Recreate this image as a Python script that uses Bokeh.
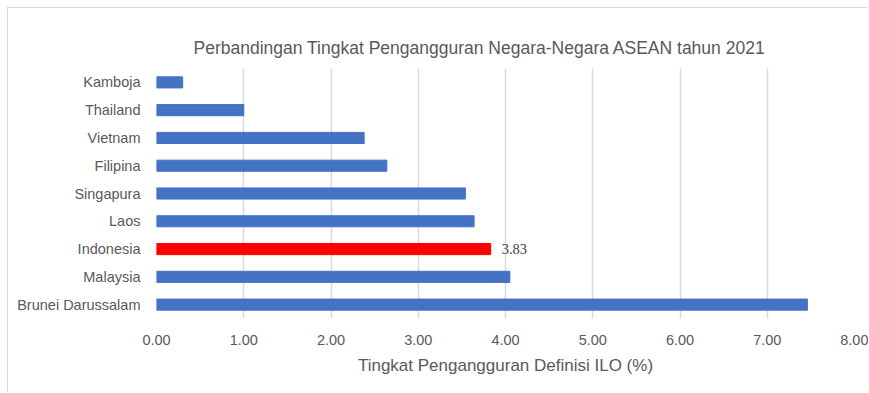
from bokeh.plotting import figure
from bokeh.models import ColumnDataSource, Range1d, FixedTicker, Title, LabelSet
from bokeh.embed import file_html
from bokeh.resources import INLINE

countries = ["Kamboja", "Thailand", "Vietnam", "Filipina", "Singapura", "Laos",
             "Indonesia", "Malaysia", "Brunei Darussalam"]
rates = [0.30, 1.00, 2.38, 2.64, 3.54, 3.64, 3.83, 4.05, 7.46]
colors = ["#4472C4"] * 6 + ["#FF0000"] + ["#4472C4"] * 2
label_text = ["", "", "", "", "", "", "3.83", "", ""]
x_ticks = [0, 1, 2, 3, 4, 5, 6, 7, 8]

FONT = "Liberation Sans"
GRAY = "#595959"

src = ColumnDataSource(dict(country=countries, rate=rates, color=colors, lab=label_text))

p = figure(width=861, height=385, y_range=list(reversed(countries)),
           x_range=Range1d(0, 8), output_backend="svg", toolbar_location=None,
           min_border_left=148, min_border_right=15, min_border_top=60, min_border_bottom=75)

p.hbar(y="country", right="rate", left=0, height=0.4, color="color", source=src)

labels = LabelSet(x="rate", y="country", text="lab", source=src, x_offset=11, y_offset=0,
                  text_baseline="middle", text_font=FONT, text_font_size="14.5px",
                  text_color="#404040")
p.add_layout(labels)

p.outline_line_color = None
p.ygrid.grid_line_color = None
p.xgrid.grid_line_color = "#d9d9d9"
p.xgrid.grid_line_width = 1.5

p.xaxis.ticker = FixedTicker(ticks=x_ticks)
p.xaxis.major_label_overrides = {t: f"{t:.2f}" for t in x_ticks}
p.xaxis.axis_label = "Tingkat Pengangguran Definisi ILO (%)"
for ax in (p.xaxis[0], p.yaxis[0]):
    ax.axis_line_color = None
    ax.major_tick_line_color = None
    ax.minor_tick_line_color = None
    ax.major_label_text_font = FONT
    ax.major_label_text_font_size = "14.5px"
    ax.major_label_text_color = GRAY
p.xaxis.major_label_standoff = 10
p.yaxis.major_label_standoff = 10
p.xaxis.axis_label_text_font = FONT
p.xaxis.axis_label_text_font_size = "17px"
p.xaxis.axis_label_text_font_style = "normal"
p.xaxis.axis_label_text_color = GRAY
p.xaxis.axis_label_standoff = 8

p.title = Title(text="Perbandingan Tingkat Pengangguran Negara-Negara ASEAN tahun 2021",
                align="left", offset=37, text_font=FONT, text_font_size="17.5px",
                text_font_style="normal", text_color=GRAY, standoff=22)

p.styles = {"border-left": "1px solid #d9d9d9", "border-top": "1px solid #d9d9d9",
            "margin-left": "7px", "margin-top": "7px"}

open("out.html", "w").write(file_html(p, INLINE))
